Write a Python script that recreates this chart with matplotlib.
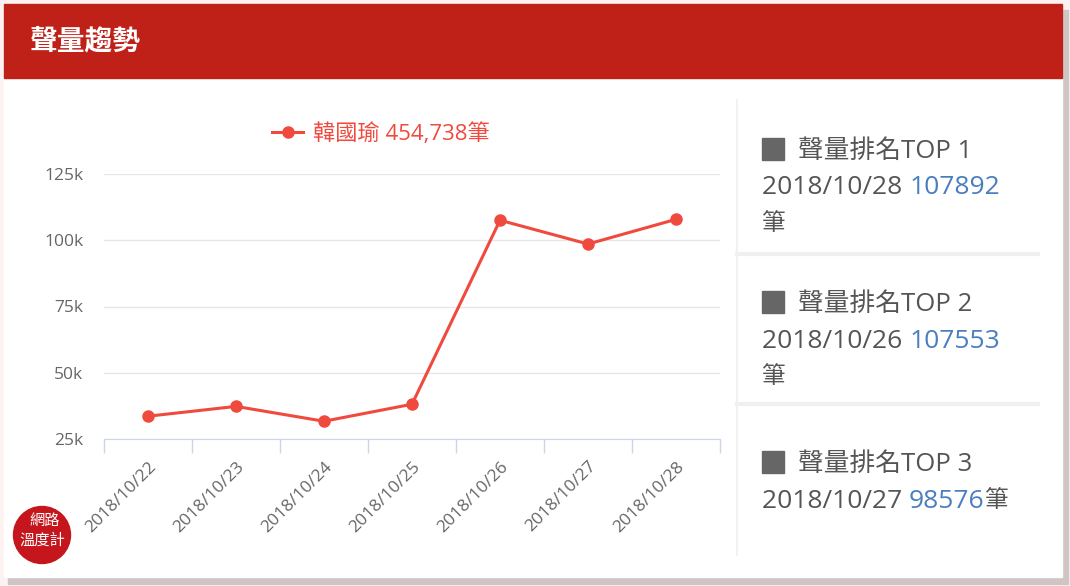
import matplotlib.pyplot as plt
from matplotlib.patches import Rectangle, Ellipse
from matplotlib.text import Annotation
from matplotlib.ticker import FixedLocator, FuncFormatter

plt.rcParams['font.family'] = ['Open Sans', 'Noto Sans CJK TC', 'DejaVu Sans']

# data
dates = ['2018/10/22', '2018/10/23', '2018/10/24', '2018/10/25',
         '2018/10/26', '2018/10/27', '2018/10/28']
volume = [33600, 37300, 31700, 38117, 107553, 98576, 107892]
series_name = '韓國瑜'
rank_dates = ['2018/10/28', '2018/10/26', '2018/10/27']
rank_values = [107892, 107553, 98576]
y_ticks = [25000, 50000, 75000, 100000, 125000]

W, H = 1070, 586
RED = '#f04a3e'
GREY_TXT = '#555555'
BLUE = '#4a7fbf'


def fx(px):
    return px / W


def fy(py):
    return 1 - py / H


def rect(x0, y0, x1, y1, color, z=0):
    # pixel box (top-left origin) -> figure patch
    fig.patches.append(Rectangle((fx(x0), fy(y1)), (x1 - x0) / W, (y1 - y0) / H,
                                 transform=fig.transFigure, color=color, zorder=z))


fig = plt.figure(figsize=(W / 100, H / 100), dpi=100)
fig.patch.set_facecolor('#fdf2f2')

# card, shadow and header
rect(8, 10, 1068, 584, '#cfc5c5')
rect(4, 4, 1062, 577, 'white')
rect(4, 4, 1062, 78, '#bf2017')
fig.text(fx(30), fy(42), '聲量趨勢', color='white', fontsize=20, fontweight='bold', va='center')

# line chart
ax = fig.add_axes([fx(104), fy(439), 616 / W, 265 / H], zorder=5)
ax.patch.set_alpha(0)
x = list(range(len(dates)))
ax.plot(x, volume, color=RED, lw=2.2, marker='o', ms=8, label=f'{series_name} {sum(volume):,}筆',
        clip_on=False)
ax.set_xlim(-0.5, len(dates) - 0.5)
ax.set_ylim(y_ticks[0], y_ticks[-1])
ax.set_yticks(y_ticks)
ax.yaxis.set_major_formatter(FuncFormatter(lambda v, p: f'{int(v / 1000)}k'))
ax.set_xticks(x)
ax.set_xticklabels(dates, rotation=45, ha='right', rotation_mode='anchor')
ax.xaxis.set_minor_locator(FixedLocator([i - 0.5 for i in range(len(dates) + 1)]))
ax.tick_params(axis='x', which='major', length=0, pad=14, labelsize=12.5, labelcolor='#666666')
ax.tick_params(axis='x', which='minor', length=10, color='#ccd6eb', width=1)
ax.tick_params(axis='y', length=0, pad=15, labelsize=12.5, labelcolor='#666666')
ax.grid(axis='y', color='#e6e6e6', lw=1)
ax.set_axisbelow(True)
for s in ['top', 'right', 'left']:
    ax.spines[s].set_visible(False)
ax.spines['bottom'].set_color('#ccd6eb')
ax.legend(loc='lower center', bbox_to_anchor=(0.45, 1.035), frameon=False, fontsize=16,
          labelcolor='linecolor', handlelength=1.4, handletextpad=0.45)

# right panel
fig.add_artist(plt.Line2D([fx(737), fx(737)], [fy(100), fy(555)], color='#f2f2f2', lw=1.5))
for sep in [254, 404]:
    fig.add_artist(plt.Line2D([fx(737), fx(1038)], [fy(sep), fy(sep)], color='#f0f0f0', lw=3))

title_y = [149, 302, 462]
for i, (d, v) in enumerate(zip(rank_dates, rank_values)):
    ty = title_y[i]
    rect(762, ty - 11, 784, ty + 11, '#666666')
    fig.text(fx(798), fy(ty + 2), f'聲量排名TOP {i + 1}', color=GREY_TXT, fontsize=18.5, va='center')
    t = fig.text(fx(762), fy(ty + 39), d + ' ', color=GREY_TXT, fontsize=19, va='center')
    a = fig.add_artist(Annotation(str(v), xy=(1, 0.5), xycoords=t, va='center', ha='left',
                                  color=BLUE, fontsize=19))
    if i < 2:
        fig.text(fx(762), fy(ty + 75), '筆', color=GREY_TXT, fontsize=17, va='center')
    else:
        fig.add_artist(Annotation('筆', xy=(1, 0.5), xycoords=a, va='center', ha='left',
                                  color=GREY_TXT, fontsize=17))

# logo
fig.patches.append(Ellipse((fx(42), fy(535)), 57 / W, 57 / H, transform=fig.transFigure,
                           color='#c4161c', zorder=3))
fig.text(fx(45), fy(522), '網路', color='white', fontsize=11, ha='center', va='center', zorder=4)
fig.text(fx(42), fy(541), '溫度計', color='white', fontsize=11, ha='center', va='center', zorder=4)

fig.savefig('out.png', dpi=100)
